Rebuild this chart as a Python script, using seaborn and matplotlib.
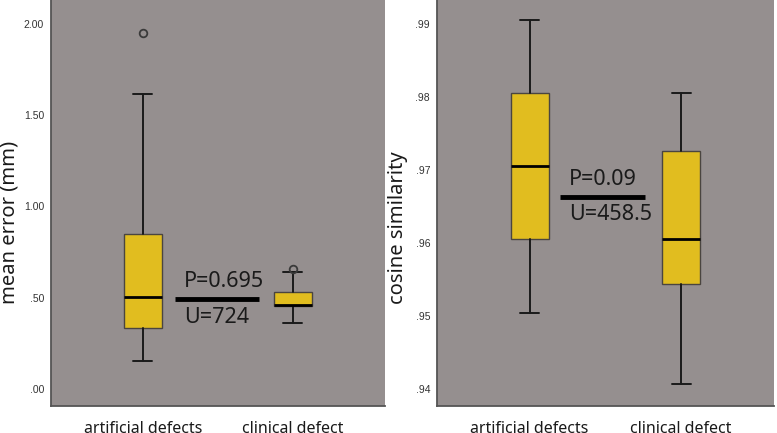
import matplotlib
matplotlib.use('Agg')
import matplotlib.pyplot as plt
import seaborn as sns

sns.set_style('white')
plt.rcParams['font.family'] = ['Noto Sans', 'DejaVu Sans']

# group labels
groups = ['artificial defects', 'clinical defect']

# mean error (mm): five-number summaries
err_whislo = [0.153, 0.363]
err_q1 = [0.333, 0.456]
err_med = [0.502, 0.460]
err_q3 = [0.849, 0.530]
err_whishi = [1.618, 0.639]
err_fliers = [[1.949], [0.656]]
err_ticks = [0.0, 0.5, 1.0, 1.5, 2.0]
err_ticklabels = ['.00', '.50', '1.00', '1.50', '2.00']

# cosine similarity
cos_whislo = [0.9505, 0.9407]
cos_q1 = [0.9606, 0.9544]
cos_med = [0.9706, 0.9606]
cos_q3 = [0.9805, 0.9726]
cos_whishi = [0.9905, 0.9805]
cos_fliers = [[], []]
cos_ticks = [0.94, 0.95, 0.96, 0.97, 0.98, 0.99]
cos_ticklabels = ['.94', '.95', '.96', '.97', '.98', '.99']

BG = '#958f8f'
BOX = '#e1bd1f'
TXT = '#1a1a1a'


def make_stats(lo, q1, med, q3, hi, fl):
    return [dict(label=g, whislo=lo[i], q1=q1[i], med=med[i], q3=q3[i],
                 whishi=hi[i], fliers=fl[i]) for i, g in enumerate(groups)]


def draw_panel(ax, stats, ticks, ticklabels, ylim, ylabel, label_xy):
    ax.set_facecolor(BG)
    ax.bxp(stats, positions=[0, 1], widths=0.25, patch_artist=True,
           boxprops=dict(facecolor=BOX, edgecolor='#4a4540', linewidth=1.0),
           medianprops=dict(color='black', linewidth=2.0),
           whiskerprops=dict(color=TXT, linewidth=1.4),
           capprops=dict(color=TXT, linewidth=1.4),
           flierprops=dict(marker='o', markerfacecolor='none',
                           markeredgecolor='#3a3a3a', markersize=5.5,
                           markeredgewidth=1.3))
    ax.set_xlim(-0.612, 1.614)
    ax.set_ylim(*ylim)
    ax.set_yticks(ticks)
    ax.set_yticklabels(ticklabels, fontsize=7.5, color='#333333',
                       family=['Liberation Sans', 'DejaVu Sans'])
    ax.set_xticks([0, 1])
    ax.set_xticklabels(groups, fontsize=11.5, color=TXT, fontweight='light')
    ax.tick_params(axis='both', length=0)
    ax.tick_params(axis='x', pad=11)
    ax.tick_params(axis='y', pad=5)
    ax.set_ylabel(ylabel, fontsize=14.5, color=TXT, fontweight='light')
    ax.yaxis.set_label_coords(*label_xy)
    for side in ['top', 'right']:
        ax.spines[side].set_visible(False)
    for side in ['left', 'bottom']:
        ax.spines[side].set_color('#555555')
        ax.spines[side].set_linewidth(1.3)


fig = plt.figure(figsize=(7.77, 4.33), dpi=100)
ax1 = fig.add_axes([51 / 777, 27 / 433, 334 / 777, 406 / 433])
ax2 = fig.add_axes([437 / 777, 27 / 433, 337 / 777, 406 / 433])

draw_panel(ax1, make_stats(err_whislo, err_q1, err_med, err_q3, err_whishi, err_fliers),
           err_ticks, err_ticklabels, (-0.093, 2.13), 'mean error (mm)', (-0.093, 0.453))
draw_panel(ax2, make_stats(cos_whislo, cos_q1, cos_med, cos_q3, cos_whishi, cos_fliers),
           cos_ticks, cos_ticklabels, (0.93772, 0.99328), 'cosine similarity', (-0.086, 0.438))

# Mann-Whitney annotations
ann = dict(fontsize=15.5, va='center', ha='left', color=TXT, fontweight='light')
ax1.plot([0.213, 0.773], [0.491, 0.491], color='black', linewidth=3.5, solid_capstyle='butt')
ax1.text(0.273, 0.586, 'P=0.695', **ann)
ax1.text(0.273, 0.389, 'U=724', **ann)

ax2.plot([0.201, 0.760], [0.9663, 0.9663], color='black', linewidth=3.5, solid_capstyle='butt')
ax2.text(0.262, 0.9687, 'P=0.09', **ann)
ax2.text(0.262, 0.9639, 'U=458.5', **ann)

fig.savefig('out.png', dpi=100, facecolor='white')
